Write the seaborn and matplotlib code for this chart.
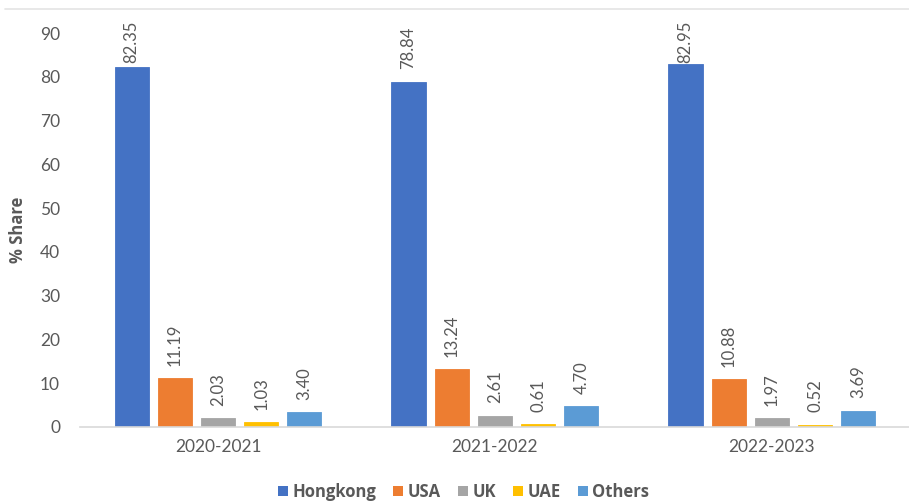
import matplotlib
matplotlib.use("Agg")
import matplotlib.pyplot as plt
from matplotlib.lines import Line2D
from matplotlib.patches import Patch
import seaborn as sns
import pandas as pd

# Share of exports by destination, per financial year
periods = ["2020-2021", "2021-2022", "2022-2023"]
countries = ["Hongkong", "USA", "UK", "UAE", "Others"]
hongkong = [82.35, 78.84, 82.95]
usa = [11.19, 13.24, 10.88]
uk = [2.03, 2.61, 1.97]
uae = [1.03, 0.61, 0.52]
others = [3.40, 4.70, 3.69]
y_ticks = [0, 10, 20, 30, 40, 50, 60, 70, 80, 90]

colors = ["#4472C4", "#ED7D31", "#A5A5A5", "#FFC000", "#5B9BD5"]
text_gray = "#595959"

series = dict(zip(countries, [hongkong, usa, uk, uae, others]))
df = pd.DataFrame(
    [(p, c, series[c][i]) for i, p in enumerate(periods) for c in countries],
    columns=["period", "country", "share"],
)

sns.set_theme(style="white")
plt.rcParams["font.family"] = ["Lato", "DejaVu Sans"]

fig = plt.figure(figsize=(9.09, 5.04), dpi=100)
ax = fig.add_axes([0.0875, 0.1528, 0.914, 0.7817])

sns.barplot(
    data=df, x="period", y="share", hue="country",
    hue_order=countries, order=periods, palette=colors,
    width=0.78, gap=0.21, legend=False, ax=ax, saturation=1,
)
for bar in ax.patches:
    bar.set_edgecolor(bar.get_facecolor())
    bar.set_linewidth(0.6)

ax.set_ylim(0, 90)
ax.set_xlim(-0.5, 2.5)
ax.set_yticks(y_ticks)
ax.tick_params(axis="both", length=0, labelsize=12.5, labelcolor=text_gray)
ax.tick_params(axis="x", pad=9)
ax.tick_params(axis="y", pad=14)
for s in ["top", "right", "left"]:
    ax.spines[s].set_visible(False)
ax.spines["bottom"].set_color("#D9D9D9")
ax.spines["bottom"].set_linewidth(1.2)
ax.set_xlabel("")
ax.set_ylabel("% Share", fontsize=12, fontweight="bold", color=text_gray,
              family=["Open Sans", "DejaVu Sans"])
ax.yaxis.set_label_coords(-0.063, 0.5)

# Rotated value labels above each bar
texts = []
for bar in ax.patches:
    h = bar.get_height()
    if bar.get_width() == 0:
        continue
    t = ax.annotate(
        f"{h:.2f}", (bar.get_x() + bar.get_width() / 2, h),
        xytext=(0, 9), textcoords="offset points",
        ha="center", va="bottom", rotation=90,
        fontsize=12, color=text_gray, annotation_clip=False,
    )
    texts.append(t)

# Keep labels inside the chart area at the top
fig.canvas.draw()
renderer = fig.canvas.get_renderer()
top_limit = 504 - 21
for t in texts:
    bb = t.get_window_extent(renderer)
    if bb.y1 > top_limit:
        shift = (bb.y1 - top_limit) * 72 / fig.dpi
        x0, y0 = t.xyann
        t.xyann = (x0, y0 - shift)

# Thin separator line across the top
fig.add_artist(Line2D([0.005, 1.0], [1 - 9 / 504, 1 - 9 / 504],
                      transform=fig.transFigure, color="#E4E4E4", lw=1.2))

handles = [Patch(facecolor=c, edgecolor="none") for c in colors]
leg = fig.legend(
    handles, countries, loc="center", bbox_to_anchor=(0.510, 1 - 492 / 504),
    ncol=5, frameon=False, handlelength=0.6, handleheight=0.6,
    handletextpad=0.25, columnspacing=1.05,
    prop={"weight": "bold", "size": 12, "family": ["Open Sans", "DejaVu Sans"]},
)
for txt in leg.get_texts():
    txt.set_color(text_gray)

fig.savefig("out.png", dpi=100)
